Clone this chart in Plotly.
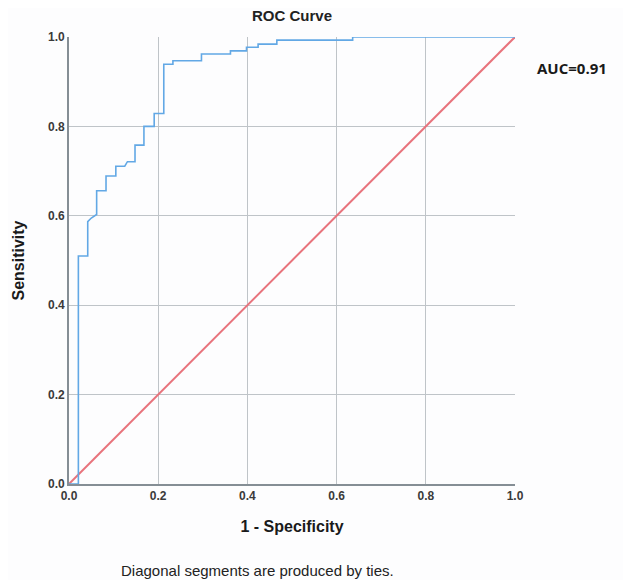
import plotly.graph_objects as go

# ROC curve points (1 - specificity, sensitivity)
fpr = [0.0, 0.021, 0.021, 0.042, 0.042, 0.050, 0.062, 0.062, 0.083, 0.083, 0.105, 0.105,
       0.125, 0.131, 0.148, 0.148, 0.168, 0.168, 0.191, 0.191, 0.2125, 0.2125, 0.233, 0.233,
       0.297, 0.297, 0.362, 0.362, 0.398, 0.398, 0.424, 0.424, 0.466, 0.466, 0.636, 0.636, 1.0]
tpr = [0.0, 0.0, 0.51, 0.51, 0.587, 0.595, 0.603, 0.656, 0.656, 0.689, 0.689, 0.711,
       0.711, 0.721, 0.721, 0.758, 0.758, 0.80, 0.80, 0.829, 0.829, 0.939, 0.939, 0.947,
       0.947, 0.962, 0.962, 0.969, 0.969, 0.977, 0.977, 0.984, 0.984, 0.993, 0.993, 1.0, 1.0]
ref_x = [0.0, 1.0]
ref_y = [0.0, 1.0]
tick_vals = [0.0, 0.2, 0.4, 0.6, 0.8, 1.0]
tick_text = ["0.0", "0.2", "0.4", "0.6", "0.8", "1.0"]
auc_label = "AUC=0.91"

W, H = 623, 572
L, R, T, B = 61, 507, 29, 476  # plot area edges in figure pixels

fig = go.Figure()
fig.add_trace(go.Scatter(x=ref_x, y=ref_y, mode="lines",
                         line=dict(color="#E8737C", width=2), showlegend=False))
fig.add_trace(go.Scatter(x=fpr, y=tpr, mode="lines",
                         line=dict(color="#62A8E5", width=1.6), showlegend=False))

axis_common = dict(range=[0, 1], tickvals=tick_vals, ticktext=tick_text,
                   showgrid=True, gridcolor="#BFC4C8", gridwidth=1.2,
                   zeroline=False, showline=True, linecolor="#858E95", linewidth=1.6,
                   mirror=False, ticks="", fixedrange=True, automargin=False,
                   tickfont=dict(family="Liberation Sans, Arial", size=12, color="#3a3a3a",
                                 weight="bold"))

fig.update_layout(
    width=W, height=H,
    margin=dict(l=L, r=W - R, t=T, b=H - B),
    paper_bgcolor="#FDFDFE", plot_bgcolor="#FDFDFE",
    title=dict(text="<b>ROC Curve</b>", x=(L + R) / 2 / W, xanchor="center",
               y=1 - 8 / H, yanchor="middle",
               font=dict(family="Liberation Sans, Arial", size=15, color="#222222")),
    xaxis=dict(**axis_common,
               title=dict(text="<b>1 - Specificity</b>", standoff=19,
                          font=dict(family="Liberation Sans, Arial", size=16, color="#1a1a1a"))),
    yaxis=dict(**axis_common,
               title=dict(text="<b>Sensitivity</b>", standoff=20,
                          font=dict(family="Liberation Sans, Arial", size=16, color="#1a1a1a"))),
    showlegend=False,
)

fig.add_annotation(text="<b>" + auc_label + "</b>", xref="paper", yref="paper",
                   x=(564 - L) / (R - L), y=(B - 60) / (B - T),
                   xanchor="center", yanchor="middle", showarrow=False,
                   font=dict(family="Open Sans, Arial", size=15, color="#1a1a1a"))
fig.add_annotation(text="Diagonal segments are produced by ties.", xref="paper", yref="paper",
                   x=(249 - L) / (R - L), y=(B - 562) / (B - T),
                   xanchor="center", yanchor="middle", showarrow=False,
                   font=dict(family="Liberation Sans, Arial", size=15, color="#222222"))

fig.write_html("out.html")
